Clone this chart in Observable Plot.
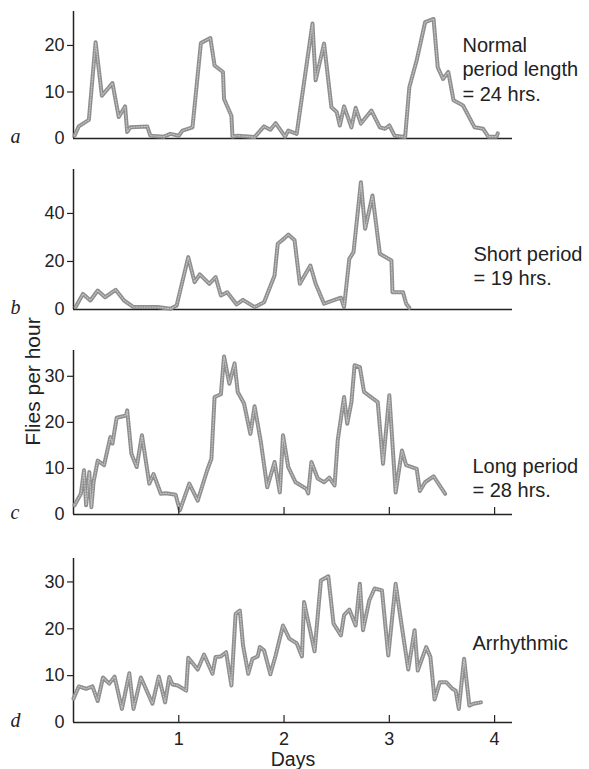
<!DOCTYPE html>
<html><head><meta charset="utf-8">
<script src="https://cdn.jsdelivr.net/npm/d3@7"></script>
<script src="https://cdn.jsdelivr.net/npm/@observablehq/plot@0.6"></script>
<style>
body{margin:0;background:#fff;}
#chart{position:relative;width:589px;height:769px;overflow:hidden;background:#fff;}
#chart svg{position:absolute;left:0;}
</style></head><body><div id="chart"></div>
<script>
// ---- data (days, flies per hour) ----
const aDays = [0.01,0.05,0.146,0.21,0.27,0.37,0.43,0.49,0.51,0.54,0.70,0.73,0.86,0.92,1.0,1.035,1.13,1.21,1.30,1.34,1.42,1.43,1.50,1.51,1.56,1.72,1.81,1.87,1.92,2.01,2.04,2.12,2.27,2.30,2.38,2.45,2.50,2.53,2.57,2.64,2.68,2.73,2.83,2.91,2.96,3.0,3.05,3.15,3.19,3.26,3.34,3.42,3.46,3.51,3.56,3.61,3.70,3.81,3.89,3.94,4.02,4.03];
const aVals = [0.6,2.6,4,20.7,9.2,11.9,4.6,6.9,1.4,2.4,2.6,0.6,0.4,1,0.6,1.7,2.4,20.5,21.6,15.7,14.3,8.5,4.9,0.4,0.6,0.3,2.6,1.9,3.3,0.4,1.7,1,24.7,12.5,20.4,6.7,5.7,2.8,6.9,2.4,6.6,3.2,6,2.4,2.1,2.8,0.6,0.3,11,16.8,25,25.7,15.3,12.8,14.3,8.2,7.1,2.4,2.1,0.4,0.4,1.1];

const bDays = [0.02,0.09,0.16,0.23,0.30,0.40,0.48,0.57,0.73,0.80,0.92,0.98,1.09,1.15,1.20,1.29,1.35,1.40,1.46,1.55,1.61,1.72,1.81,1.91,1.94,2.00,2.04,2.10,2.15,2.25,2.30,2.38,2.54,2.57,2.62,2.66,2.73,2.77,2.84,2.91,3.02,3.03,3.13,3.16,3.19];
const bVals = [1,6.5,3.75,7.9,5.1,8.2,3.75,1,1,1,0.3,1.7,21.8,11.4,14.6,10.7,13.5,5.8,7.2,2.1,4,1,3,14.2,27.4,29.5,31.2,28.8,10.7,18.3,10.7,2.4,4.9,1,21.1,23.9,53,33.6,47.5,23.2,20.4,7.2,7.2,2.4,0.7];

const cDays = [0.01,0.07,0.10,0.12,0.15,0.17,0.19,0.23,0.29,0.35,0.37,0.41,0.50,0.51,0.55,0.60,0.65,0.72,0.76,0.83,0.88,0.97,1.01,1.10,1.18,1.27,1.31,1.34,1.40,1.43,1.48,1.53,1.56,1.62,1.68,1.72,1.78,1.84,1.91,1.96,1.99,2.04,2.11,2.21,2.23,2.26,2.32,2.38,2.43,2.48,2.51,2.57,2.60,2.64,2.67,2.72,2.76,2.80,2.89,2.94,3.00,3.06,3.12,3.16,3.26,3.29,3.34,3.42,3.53];
const cVals = [2,4.5,9.6,2,9.2,1.6,7,11.7,10.7,16.8,15.4,21,21.5,22.6,13.2,10.3,17.2,6.7,8.8,4.5,4.6,4.3,0.9,6.7,3,9.6,12.1,25.5,26.1,34.3,28.4,32.8,26.6,24.1,17.5,23.5,15.7,5.9,11.4,4.8,17.2,10.3,7,5.6,4.6,11.4,7.8,7,8,6.3,16.1,25.5,19.7,24.4,32.4,32,26.6,25.9,24.4,11,25.9,4.8,13.9,10.7,9.9,5.1,7,8.3,4.5];

const dDays = [0,0.05,0.12,0.18,0.23,0.28,0.34,0.39,0.46,0.53,0.57,0.64,0.75,0.81,0.87,0.91,0.94,0.99,1.07,1.09,1.18,1.24,1.32,1.35,1.40,1.45,1.50,1.54,1.58,1.61,1.66,1.70,1.75,1.77,1.81,1.87,1.92,1.99,2.05,2.12,2.17,2.19,2.29,2.35,2.42,2.47,2.54,2.57,2.62,2.68,2.72,2.75,2.81,2.86,2.93,2.99,3.06,3.11,3.18,3.24,3.27,3.35,3.39,3.43,3.48,3.54,3.60,3.63,3.66,3.71,3.76,3.80,3.87];
const dVals = [5.1,7.7,7.2,7.7,4.6,9.6,8.3,9.8,2.9,10.5,2.9,9.6,4,9.8,4.3,9.7,8.1,7.9,6.8,13.8,11.3,14.5,10.4,14,14.1,15,7.9,23.2,23.9,16.5,10.4,13.6,14.1,16.1,15.4,10.3,14.3,20.7,17.9,16.9,14.1,25.7,15.2,30.3,31.2,21.1,18.6,22.9,24.1,20.7,29.6,19.7,26.1,28.6,28.2,14.3,29.6,21.8,11.3,19.7,11.1,16.1,14,4.9,8.6,8.6,7.2,6.8,2.9,13.6,3.6,4,4.3];

// ---- ticks and labels ----
const dayTicks = [1, 2, 3, 4];
const yTicksA = [0, 10, 20];
const yTicksB = [0, 20, 40];
const yTicksC = [0, 10, 20, 30];
const yTicksD = [0, 10, 20, 30];
const panelLetters = ["a", "b", "c", "d"];
const notes = ["Normal\nperiod length\n= 24 hrs.", "Short period\n= 19 hrs.", "Long period\n= 28 hrs.", "Arrhythmic"];
const yLabel = "Flies per hour";
const xLabel = "Days";

const FONT = "'Liberation Sans', Arial, Helvetica, sans-serif";
const SERIF = "'Liberation Serif', 'Times New Roman', serif";
const INK = "#222";
const LINE = "#8e8e8e";

function rows(days, vals) {
  const n = Math.min(days.length, vals.length);
  return d3.range(n).map(i => ({day: days[i], v: vals[i]}));
}

function panel(o) {
  const data = rows(o.days, o.vals);
  const marks = [
    Plot.ruleY([0], {stroke: INK, strokeWidth: 1.5}),
    Plot.ruleX([0], {stroke: INK, strokeWidth: 1.5}),
    Plot.ruleY(o.yTicks.filter(t => t > 0), {x1: 0, x2: 0, insetLeft: -6, stroke: INK, strokeWidth: 1.2}),
    Plot.axisY({ticks: o.yTicks, tickSize: 0, tickPadding: 9, label: null, fontSize: 18}),
    Plot.line(data, {x: "day", y: "v", stroke: LINE, strokeWidth: 4, strokeLinejoin: "round", strokeLinecap: "round"}),
    Plot.line(data, {x: "day", y: "v", stroke: "#c4c4c4", strokeWidth: 1.2, strokeDasharray: "1 1.6", strokeLinejoin: "round"}),
    Plot.text([o.letter], {frameAnchor: "bottom-left", dx: -63, dy: 4, textAnchor: "start", lineAnchor: "bottom", fontFamily: SERIF, fontStyle: "italic", fontSize: 20}),
    Plot.text([o.note], {frameAnchor: "top-left", dx: o.noteDx, dy: o.noteDy, textAnchor: "start", lineAnchor: "top", lineHeight: 1.22, fontSize: 20})
  ];
  if (o.xTicks) marks.push(Plot.ruleX(dayTicks, {y1: 0, y2: 0, insetTop: -7, stroke: INK, strokeWidth: 1.2}));
  if (o.xAxis) {
    marks.push(Plot.axisX({ticks: dayTicks, tickFormat: d => String(d), tickSize: 0, tickPadding: 10, label: null, fontSize: 18}));
    marks.push(Plot.text([xLabel], {frameAnchor: "bottom", dy: 43, lineAnchor: "bottom", fontSize: 19.5}));
  }
  if (o.yLab) marks.push(Plot.text([yLabel], {frameAnchor: "top-left", dx: -40, dy: 31, rotate: -90, textAnchor: "middle", lineAnchor: "middle", fontSize: 21}));
  const svg = Plot.plot({
    width: 589, height: o.height,
    marginLeft: 73, marginRight: 77, marginTop: o.mt, marginBottom: o.mb,
    x: o.xAxis ? {domain: [0, 4.17]} : {domain: [0, 4.17], axis: null},
    y: {domain: [0, o.yMax], axis: null},
    style: {fontFamily: FONT, fontSize: "18px", color: INK, background: "transparent", overflow: "visible"},
    marks
  });
  svg.style.top = o.top + "px";
  return svg;
}

const chart = document.getElementById("chart");
chart.appendChild(panel({days: aDays, vals: aVals, yMax: 27.3, yTicks: yTicksA, letter: panelLetters[0], note: notes[0], top: 0, height: 150, mt: 11, mb: 12, noteDx: 389, noteDy: 23}));
chart.appendChild(panel({days: bDays, vals: bVals, yMax: 58.3, yTicks: yTicksB, letter: panelLetters[1], note: notes[1], top: 150, height: 170, mt: 19, mb: 11, noteDx: 400, noteDy: 74}));
chart.appendChild(panel({days: cDays, vals: cVals, yMax: 35.6, yTicks: yTicksC, letter: panelLetters[2], note: notes[2], top: 320, height: 205, mt: 30, mb: 11, noteDx: 399, noteDy: 105, xTicks: true, yLab: true}));
chart.appendChild(panel({days: dDays, vals: dVals, yMax: 35, yTicks: yTicksD, letter: panelLetters[3], note: notes[3], top: 525, height: 244, mt: 33, mb: 47, noteDx: 399, noteDy: 74, xTicks: true, xAxis: true}));
</script></body></html>
